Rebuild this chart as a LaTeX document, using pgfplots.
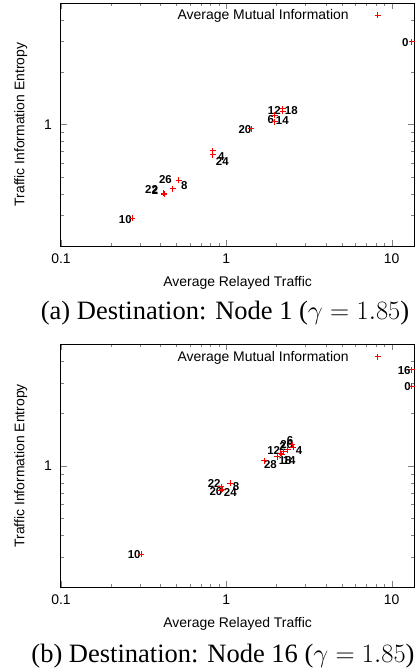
\RequirePackage{fix-cm}
\documentclass[border=0pt]{standalone}
\usepackage{fontspec}
\setmainfont{Liberation Serif}
\setsansfont{Liberation Sans}
\usepackage{pgfplots}
\pgfplotsset{compat=1.18}
\usepackage{pgfplotstable}

% (a) destination node 1: mutual information marks
\pgfplotstableread{
x y
0.270 0.288
0.419 0.401
0.421 0.398
0.475 0.428
0.515 0.478
0.830 0.705
0.830 0.672
1.416 0.943
1.96 1.131
1.96 1.038
2.19 1.193
2.19 1.233
13.2 2.99
}\miA
% (a) entropy labels
\pgfplotstableread{
x y l
0.245 0.284 10
0.353 0.423 22
0.370 0.419 2
0.428 0.483 26
0.557 0.448 8
0.933 0.657 4
0.946 0.615 24
1.296 0.940 20
1.95 1.209 12
2.47 1.197 18
1.86 1.069 6
2.18 1.058 14
12.1 2.95 0
}\lbA
% (b) destination node 16
\pgfplotstableread{
x y
13.2 3.57
13.2 2.86
0.306 0.310
0.933 0.760
0.946 0.732
0.930 0.723
1.054 0.795
1.697 1.069
2.034 1.127
2.130 1.180
2.16 1.157
2.22 1.204
2.35 1.236
2.506 1.321
2.535 1.278
}\miB
\pgfplotstableread{
x y l
11.89 3.55 16
12.49 2.86 0
0.277 0.308 10
0.844 0.795 22
0.865 0.711 20
1.057 0.702 24
1.143 0.760 8
1.848 1.023 28
1.932 1.228 12
2.19 1.295 2
2.316 1.321 26
2.43 1.393 6
2.75 1.220 4
2.268 1.076 18
2.398 1.076 14
}\lbB

\begin{document}
\begin{tikzpicture}
\useasboundingbox (0,0) rectangle (416bp,-670bp);

\begin{axis}[
    at={(61bp,-246bp)}, anchor=south west,
    xmode=log, ymode=log,
    scale only axis, width=353.3bp, height=243bp,
    xmin=0.1, xmax=13.7, ymin=0.2, ymax=5,
    xtick={0.1,1,10}, xticklabels={0.1,1,10},
    ytick={1}, yticklabels={1},
    minor xtick={0.2,0.3,0.4,0.5,0.6,0.7,0.8,0.9,2,3,4,5,6,7,8,9},
    minor ytick={0.3,0.4,0.5,0.6,0.7,0.8,0.9,2,3,4},
    tick align=inside,
    major tick length=6bp, minor tick length=3bp,
    axis line style={line width=1bp},
    font=\sffamily\fontsize{14}{16}\selectfont,
    xlabel={Average Relayed Traffic},
    ylabel={Traffic Information Entropy},
    xlabel style={at={(axis description cs:0.5,-0.1667)}, anchor=base},
    ylabel style={at={(axis description cs:-0.1141,0.5)}, anchor=center},
    xticklabel shift=4bp,
    yticklabel style={xshift=-5.6bp},
    legend style={draw=none, fill=none, at={(axis description cs:0.9055,0.949)},
      anchor=east, inner sep=0pt, column sep=24bp},
    legend plot pos=right, legend cell align=right,
  ]
  \addplot[draw=none, mark=none, forget plot, point meta=explicit symbolic,
    nodes near coords,
    every node near coord/.append style={anchor=center, inner sep=0pt,
      font=\sffamily\bfseries\fontsize{11.5}{12}\selectfont, text=black}]
    table[x=x, y=y, meta=l] {\lbA};
  \addplot[only marks, mark=+, mark size=3bp, color=red,
    mark options={draw=red, line width=1bp}]
    table[x=x, y=y] {\miA};
  \addlegendentry{Average Mutual Information}
\end{axis}
\node[anchor=base, font=\fontsize{26.6}{30}\selectfont] at (225bp,-319bp)
  {(a) Destination: Node 1 ($\gamma = 1.85$)};

\begin{axis}[
    at={(61bp,-587.3bp)}, anchor=south west,
    xmode=log, ymode=log,
    scale only axis, width=353.3bp, height=243bp,
    xmin=0.1, xmax=13.7, ymin=0.2, ymax=5,
    xtick={0.1,1,10}, xticklabels={0.1,1,10},
    ytick={1}, yticklabels={1},
    minor xtick={0.2,0.3,0.4,0.5,0.6,0.7,0.8,0.9,2,3,4,5,6,7,8,9},
    minor ytick={0.3,0.4,0.5,0.6,0.7,0.8,0.9,2,3,4},
    tick align=inside,
    major tick length=6bp, minor tick length=3bp,
    axis line style={line width=1bp},
    font=\sffamily\fontsize{14}{16}\selectfont,
    xlabel={Average Relayed Traffic},
    ylabel={Traffic Information Entropy},
    xlabel style={at={(axis description cs:0.5,-0.1667)}, anchor=base},
    ylabel style={at={(axis description cs:-0.1141,0.5)}, anchor=center},
    xticklabel shift=4bp,
    yticklabel style={xshift=-5.6bp},
    legend style={draw=none, fill=none, at={(axis description cs:0.9055,0.949)},
      anchor=east, inner sep=0pt, column sep=24bp},
    legend plot pos=right, legend cell align=right,
  ]
  \addplot[draw=none, mark=none, forget plot, point meta=explicit symbolic,
    nodes near coords,
    every node near coord/.append style={anchor=center, inner sep=0pt,
      font=\sffamily\bfseries\fontsize{11.5}{12}\selectfont, text=black}]
    table[x=x, y=y, meta=l] {\lbB};
  \addplot[only marks, mark=+, mark size=3bp, color=red,
    mark options={draw=red, line width=1bp}]
    table[x=x, y=y] {\miB};
  \addlegendentry{Average Mutual Information}
\end{axis}
\node[anchor=base, font=\fontsize{26.6}{30}\selectfont] at (223bp,-662bp)
  {(b) Destination: Node 16 ($\gamma = 1.85$)};
\end{tikzpicture}
\end{document}
